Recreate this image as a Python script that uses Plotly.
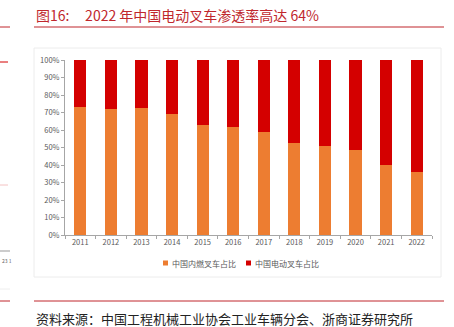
import plotly.graph_objects as go

years = ["2011", "2012", "2013", "2014", "2015", "2016", "2017", "2018", "2019", "2020", "2021", "2022"]
ice_share = [73.3, 72.2, 72.8, 69.3, 63.0, 61.5, 58.9, 52.8, 50.7, 48.6, 39.8, 36.0]
electric_share = [round(100 - v, 1) for v in ice_share]
series_names = ["中国内燃叉车占比", "中国电动叉车占比"]
series_colors = ["#ED7D31", "#D40000"]
title_text = "图16:&nbsp;&nbsp;&nbsp;&nbsp;&nbsp;2022 年中国电动叉车渗透率高达 64%"
source_text = "资料来源：中国工程机械工业协会工业车辆分会、浙商证券研究所"

W, H = 454, 327
L, R, T, B = 65, 22, 60, 92
pw, ph = W - L - R, H - T - B


def px(x):
    return (x - L) / pw


def py(y):
    return (H - B - y) / ph


fig = go.Figure()
for vals, name, color in zip([ice_share, electric_share], series_names, series_colors):
    fig.add_trace(go.Bar(x=years, y=vals, name=name, showlegend=False,
                         marker=dict(color=color, line=dict(width=0))))

axis_font = dict(family="Noto Sans CJK SC", size=7.5, color="#595959")
fig.update_layout(
    width=W, height=H,
    margin=dict(l=L, r=R, t=T, b=B),
    barmode="stack", bargap=0.6,
    plot_bgcolor="white", paper_bgcolor="white",
    xaxis=dict(type="category", range=[-0.5, 11.5], showgrid=False,
               showline=True, linecolor="#A6A6A6", linewidth=1,
               ticks="outside", ticklen=3, tickcolor="#A6A6A6", tickson="boundaries",
               tickfont=axis_font, fixedrange=True),
    yaxis=dict(range=[0, 100], dtick=10, ticksuffix="%", showgrid=False,
               showline=True, linecolor="#A6A6A6", linewidth=1,
               ticks="outside", ticklen=3, tickcolor="#A6A6A6",
               tickfont=axis_font, zeroline=False, fixedrange=True),
)

shapes = [
    # chart frame
    dict(type="rect", x0=px(34), x1=px(441), y0=py(277), y1=py(48),
         line=dict(color="#ECECEC", width=1)),
    # rule under the heading
    dict(type="line", x0=px(34), x1=px(444), y0=py(27), y1=py(27),
         line=dict(color="#C0272D", width=1.2)),
    # rule above the source note
    dict(type="line", x0=px(34), x1=px(444), y0=py(301), y1=py(301),
         line=dict(color="#C0272D", width=1)),
    # margin marks on the left edge
    dict(type="line", x0=px(0), x1=px(10), y0=py(27), y1=py(27),
         line=dict(color="#C0272D", width=1)),
    dict(type="line", x0=px(0), x1=px(8), y0=py(62), y1=py(62),
         line=dict(color="#D40000", width=1)),
    dict(type="line", x0=px(0), x1=px(8), y0=py(185), y1=py(185),
         line=dict(color="#F4C2C2", width=1)),
    dict(type="line", x0=px(0), x1=px(10), y0=py(251), y1=py(251),
         line=dict(color="#999999", width=1)),
    dict(type="line", x0=px(0), x1=px(10), y0=py(289), y1=py(289),
         line=dict(color="#EEEEEE", width=1)),
    dict(type="line", x0=px(0), x1=px(10), y0=py(301), y1=py(301),
         line=dict(color="#C0272D", width=1)),
]

# legend: small colour keys followed by series names
legend_x = [163, 246]
for x0, name, color in zip(legend_x, series_names, series_colors):
    shapes.append(dict(type="rect", x0=px(x0), x1=px(x0 + 5), y0=py(265.5), y1=py(260.5),
                       fillcolor=color, line=dict(width=0)))
    fig.add_annotation(text=name, xref="paper", yref="paper", x=px(x0 + 7), y=py(263),
                       xanchor="left", yanchor="middle", showarrow=False,
                       font=dict(family="Noto Sans CJK SC", size=8, color="#595959"))

for s in shapes:
    s.update(xref="paper", yref="paper", layer="below")
fig.update_layout(shapes=shapes)

fig.add_annotation(text=title_text, xref="paper", yref="paper", x=px(34), y=py(15),
                   xanchor="left", yanchor="middle", showarrow=False,
                   font=dict(family="Noto Sans CJK SC", size=14, color="#C0272D"))
fig.add_annotation(text=source_text, xref="paper", yref="paper", x=px(34), y=py(318),
                   xanchor="left", yanchor="middle", showarrow=False,
                   font=dict(family="Noto Sans CJK SC", size=13, color="#222222"))
fig.add_annotation(text="23 1", xref="paper", yref="paper", x=px(0), y=py(260),
                   xanchor="left", yanchor="middle", showarrow=False,
                   font=dict(family="Noto Sans CJK SC", size=5, color="#666666"))

fig.write_html("out.html")
